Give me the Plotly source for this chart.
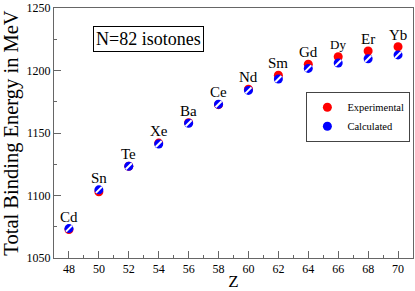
import plotly.graph_objects as go

Z = [48, 50, 52, 54, 56, 58, 60, 62, 64, 66, 68, 70]
elements = ["Cd", "Sn", "Te", "Xe", "Ba", "Ce", "Nd", "Sm", "Gd", "Dy", "Er", "Yb"]
experimental = [1072.7, 1102.9, 1123.4, 1141.9, 1158.3, 1172.7, 1185.1, 1196.2, 1205.0, 1211.0, 1215.6, 1219.0]
calculated = [1073.5, 1104.5, 1123.4, 1141.2, 1157.8, 1173.0, 1184.1, 1193.2, 1201.7, 1206.0, 1209.4, 1212.5]
label_sizes = [15, 15, 15, 15, 15, 15, 15, 15, 15, 13, 15, 15]

FONT = "'Times New Roman', 'Liberation Serif', serif"

fig = go.Figure()
fig.add_trace(go.Scatter(x=Z, y=experimental, mode="markers", name="Experimental",
                         marker=dict(color="#ff0000", size=9, line=dict(width=0))))
fig.add_trace(go.Scatter(x=Z, y=calculated, mode="markers", name="Calculated",
                         marker=dict(color="#0000ff", size=9, line=dict(width=0))))
fig.add_trace(go.Scatter(x=Z, y=calculated, mode="markers", showlegend=False, hoverinfo="skip",
                         marker=dict(symbol="line-ne", color="white", size=6,
                                     line=dict(color="white", width=2))))

for z, el, e, c, s in zip(Z, elements, experimental, calculated, label_sizes):
    fig.add_annotation(x=z, y=max(e, c), text=el, showarrow=False, yshift=12,
                       font=dict(family=FONT, size=s, color="black"))

fig.add_annotation(xref="paper", yref="paper", x=0.108, y=0.929, xanchor="left", yanchor="top",
                   text="N=82 isotones", showarrow=False, bordercolor="black", borderwidth=1,
                   borderpad=2, bgcolor="white", font=dict(family=FONT, size=18, color="black"))

axis_common = dict(showgrid=False, zeroline=False, showline=True, mirror=True,
                   linecolor="#666666", linewidth=1, ticks="inside", tickcolor="#666666",
                   ticklen=7, ticklabeloverflow="allow",
                   tickfont=dict(family=FONT, size=12, color="black"))

fig.update_xaxes(range=[47, 71], tickvals=list(range(48, 71, 2)),
                 minor=dict(tickvals=list(range(49, 71, 2)), ticks="inside", ticklen=3, tickcolor="#666666"),
                 title=dict(text="Z", font=dict(family=FONT, size=17, color="black"), standoff=2),
                 **axis_common)
fig.update_yaxes(range=[1049.99, 1250.01], tickvals=[1050, 1100, 1150, 1200, 1250],
                 minor=dict(tickvals=[1075, 1125, 1175, 1225], ticks="inside", ticklen=3, tickcolor="#666666"),
                 title=dict(text="Total Binding Energy in MeV", font=dict(family=FONT, size=20.5, color="black"), standoff=3),
                 **axis_common)

fig.update_layout(width=415, height=291, margin=dict(l=54, r=1, t=5, b=28),
                  font=dict(family=FONT),
                  plot_bgcolor="white", paper_bgcolor="white",
                  legend=dict(x=0.703, y=0.665, xanchor="left", yanchor="top", bordercolor="#444444",
                              borderwidth=1, bgcolor="white", font=dict(family=FONT, size=10.5, color="black"),
                              tracegroupgap=0, itemwidth=30))
fig.write_html("out.html", config={"displayModeBar": False},
               post_script="document.body.style.margin='0';document.body.style.padding='0';")
